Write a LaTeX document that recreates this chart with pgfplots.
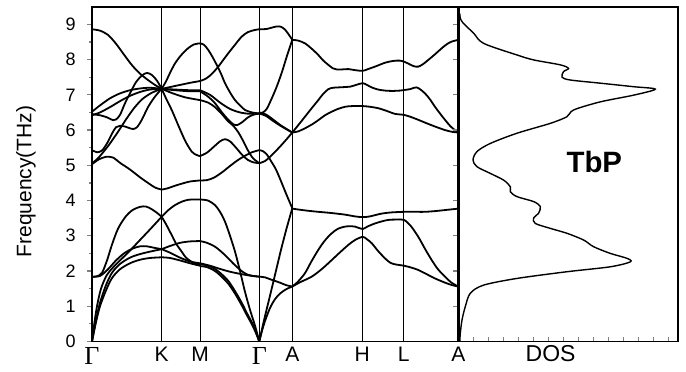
\documentclass[border=0pt]{standalone}
\usepackage{pgfplots}
\pgfplotsset{compat=1.18}
\usepackage{fontspec}
\setmainfont{Liberation Sans}
\newfontfamily\serif{Liberation Serif}
\newcommand{\Gam}{{\serif\fontsize{13}{13}\selectfont\raisebox{0.8pt}{Γ}}}
\tikzset{b/.style={black, line width=0.9pt, smooth, mark=none}}
\begin{document}
\begin{tikzpicture}[x=1pt,y=1pt]
\useasboundingbox (0,0) rectangle (343,185.5);
\begin{axis}[
 at={(46pt,14.75pt)}, anchor=south west, scale only axis,
 width=183.15pt, height=167.4pt,
 xmin=92, xmax=458.3, ymin=0, ymax=9.5,
 axis line style={line width=0.9pt},
 xtick={92,161.7,200,259.3,292.3,362.3,403.7,458.3},
 xticklabels={\Gam,K,M,\Gam,A,H,L,A},
 xticklabel style={font=\fontsize{10.5}{10.5}\selectfont, yshift=1.2pt, inner sep=1.5pt},
 xmajorgrids, major x grid style={black, line width=0.45pt},
 xtick style={draw=none},
 ytick={0,...,9}, minor y tick num=1, ytick pos=left, tick align=outside,
 major tick length=2.5pt, minor tick length=1.6pt,
 ytick style={line width=0.6pt},
 yticklabel style={font=\fontsize{9}{9}\selectfont, xshift=-2.2pt},
 /pgf/number format/assume math mode=true,
 ylabel={Frequency(THz)},
 ylabel style={font=\fontsize{10.5}{10.5}\selectfont, at={(axis description cs:-0.18,0.478)}, anchor=center},
]
% ---------- Gamma - K ----------
\addplot[b] coordinates {(92,8.86)(100,8.82)(108,8.7)(116,8.45)(124,8.14)(132,7.84)(140,7.6)(148,7.42)(155,7.28)(161.7,7.17)};
\addplot[b] coordinates {(92,6.45)(100,6.42)(107,6.36)(113,6.28)(116,6.3)(120,6.43)(125,6.76)(130,7.04)(136,7.36)(142,7.55)(147,7.62)(152,7.56)(157,7.4)(161.7,7.17)};
\addplot[b] coordinates {(92,6.52)(100,6.7)(110,6.9)(120,7.04)(130,7.13)(140,7.18)(150,7.2)(161.7,7.17)};
\addplot[b] coordinates {(92,6.42)(100,6.5)(110,6.65)(120,6.82)(130,6.97)(140,7.08)(150,7.15)(161.7,7.17)};
\addplot[b] coordinates {(92,5.43)(97,5.37)(102,5.42)(107,5.62)(112,5.9)(116,6.08)(120,6.12)(125,6.1)(129,6.06)(133,6.03)(137,6.08)(142,6.3)(148,6.65)(155,6.95)(161.7,7.17)};
\addplot[b] coordinates {(92,5.05)(98,5.2)(104,5.4)(110,5.62)(118,5.95)(126,6.3)(134,6.62)(142,6.87)(150,7.03)(156,7.11)(161.7,7.17)};
\addplot[b] coordinates {(92,5.03)(99,5.17)(106,5.24)(113,5.22)(120,5.07)(130,4.88)(140,4.66)(148,4.5)(155,4.37)(161.7,4.31)};
\addplot[b] coordinates {(92,1.84)(97,1.85)(102,1.95)(107,2.3)(112,2.75)(118,3.2)(125,3.52)(132,3.72)(140,3.82)(146,3.83)(152,3.75)(157,3.65)(161.7,3.54)};
\addplot[b] coordinates {(92,0)(94,0.45)(97,1.0)(101,1.5)(106.7,1.88)(113,2.1)(120,2.3)(130,2.58)(140,2.88)(150,3.18)(161.7,3.54)};
\addplot[b] coordinates {(92,1.84)(100,1.86)(108,2.05)(116,2.3)(124,2.5)(132,2.63)(140,2.7)(147,2.7)(154,2.66)(161.7,2.62)};
\addplot[b] coordinates {(92,0)(96,0.6)(100,1.1)(106,1.6)(112,1.95)(120,2.2)(130,2.38)(140,2.48)(150,2.55)(161.7,2.62)};
\addplot[b] coordinates {(92,0)(96,0.55)(100,1.0)(106,1.45)(112,1.8)(120,2.05)(130,2.22)(140,2.32)(150,2.37)(161.7,2.39)};
% ---------- K - M ----------
\addplot[b] coordinates {(161.7,7.17)(166,7.38)(170,7.62)(175,7.89)(181,8.12)(188,8.32)(194,8.43)(200,8.46)};
\addplot[b] coordinates {(161.7,7.17)(170,7.22)(180,7.28)(190,7.34)(200,7.39)};
\addplot[b] coordinates {(161.7,7.17)(175,7.15)(190,7.13)(200,7.13)};
\addplot[b] coordinates {(161.7,7.17)(175,7.13)(190,7.1)(200,7.1)};
\addplot[b] coordinates {(161.7,7.17)(172,7.05)(185,6.93)(200,6.85)};
\addplot[b] coordinates {(161.7,7.17)(166,6.9)(171.7,6.57)(177,6.22)(181.7,5.91)(186,5.65)(191.7,5.39)(196,5.3)(200,5.26)};
\addplot[b] coordinates {(161.7,4.31)(168,4.35)(175,4.42)(182,4.48)(190,4.54)(200,4.57)};
\addplot[b] coordinates {(161.7,3.54)(166,3.33)(171.7,3.02)(176,2.78)(181.7,2.55)(186,2.38)(191.7,2.26)(196,2.21)(200,2.19)};
\addplot[b] coordinates {(161.7,3.54)(168,3.72)(175,3.87)(182,3.97)(188,4.02)(194,4.03)(200,4.03)};
\addplot[b] coordinates {(161.7,2.62)(170,2.71)(180,2.8)(190,2.84)(200,2.85)};
\addplot[b] coordinates {(161.7,2.62)(170,2.52)(180,2.38)(190,2.27)(200,2.22)};
\addplot[b] coordinates {(161.7,2.39)(170,2.37)(180,2.3)(190,2.22)(200,2.15)};
% ---------- M - Gamma ----------
\addplot[b] coordinates {(200,8.46)(204,8.42)(208.3,8.27)(212,8.1)(216.7,7.85)(221,7.6)(225,7.33)(230,7.07)(235,6.85)(240,6.7)(245,6.57)(252,6.5)(259.3,6.47)};
\addplot[b] coordinates {(200,7.39)(206,7.46)(211.7,7.59)(218.3,7.8)(223,7.98)(228.3,8.18)(235,8.42)(241.7,8.65)(248,8.78)(255,8.84)(259.3,8.86)};
\addplot[b] coordinates {(200,7.13)(210,7.0)(220,6.78)(230,6.6)(240,6.5)(250,6.46)(259.3,6.47)};
\addplot[b] coordinates {(200,7.1)(208,6.95)(215,6.76)(222,6.5)(228,6.3)(233,6.17)(237,6.14)(242,6.22)(248,6.36)(253,6.43)(259.3,6.47)};
\addplot[b] coordinates {(200,6.85)(208,6.78)(215,6.65)(222,6.45)(228,6.25)(233,6.13)(238,5.95)(243,5.7)(248,5.42)(253,5.2)(259.3,5.06)};
\addplot[b] coordinates {(200,5.26)(207,5.36)(214,5.53)(220,5.68)(225,5.74)(230,5.68)(236,5.5)(242,5.3)(248,5.15)(254,5.08)(259.3,5.06)};
\addplot[b] coordinates {(200,4.57)(207,4.58)(214,4.65)(222,4.8)(230,4.98)(238,5.15)(245,5.27)(252,5.37)(259.3,5.43)};
\addplot[b] coordinates {(200,4.03)(208,4.0)(215,3.87)(220,3.68)(225,3.4)(230,3.0)(235,2.55)(240,2.0)(245,1.41)(250,0.9)(255,0.45)(259.3,0)};
\addplot[b] coordinates {(200,2.85)(207,2.8)(215,2.69)(222,2.53)(228.3,2.36)(233,2.22)(238.3,2.08)(243,1.97)(248.3,1.89)(253,1.86)(259.3,1.84)};
\addplot[b] coordinates {(200,2.22)(210,2.15)(220,2.06)(230,1.98)(240,1.92)(250,1.87)(259.3,1.84)};
\addplot[b] coordinates {(200,2.19)(207,2.16)(215,2.06)(222,1.9)(228.3,1.72)(235,1.43)(241.7,1.1)(247,0.8)(251.7,0.55)(255.5,0.3)(259.3,0)};
\addplot[b] coordinates {(200,2.14)(207,2.11)(215,2.0)(222,1.83)(228.3,1.64)(235,1.36)(241.7,1.03)(247,0.74)(251.7,0.5)(255.5,0.27)(259.3,0)};
% ---------- Gamma - A ----------
\addplot[b] coordinates {(259.3,8.86)(263,8.86)(267,8.87)(271,8.9)(276.7,8.94)(281,8.93)(285,8.85)(289,8.7)(292.3,8.56)};
\addplot[b] coordinates {(259.3,6.47)(263,6.5)(266.7,6.6)(271,6.85)(276.7,7.23)(282,7.65)(286.7,8.08)(292.3,8.56)};
\addplot[b] coordinates {(259.3,6.47)(266,6.4)(273,6.26)(280,6.13)(286,6.03)(292.3,5.93)};
\addplot[b] coordinates {(259.3,6.5)(266,6.44)(273,6.3)(280,6.15)(286,6.04)(292.3,5.93)};
\addplot[b] coordinates {(259.3,5.06)(265,5.12)(270,5.24)(275,5.38)(280,5.53)(286,5.72)(292.3,5.93)};
\addplot[b] coordinates {(259.3,5.43)(263,5.4)(267,5.3)(271,5.12)(276,4.88)(281,4.55)(286,4.2)(292.3,3.78)};
\addplot[b] coordinates {(259.3,0)(264,0.6)(270,1.3)(275,1.89)(281,2.6)(286.5,3.2)(292.3,3.78)};
\addplot[b] coordinates {(259.3,0)(262,0.3)(265,0.58)(270,0.95)(275,1.2)(280,1.36)(286,1.48)(292.3,1.56)};
\addplot[b] coordinates {(259.3,1.84)(265,1.82)(271.7,1.75)(280,1.67)(286,1.6)(292.3,1.56)};
% ---------- A - H - L - A ----------
\addplot[b] coordinates {(292.3,8.56)(298,8.54)(305,8.46)(312,8.3)(318.3,8.13)(323,7.98)(328.3,7.85)(333,7.75)(336.7,7.72)(342,7.72)(348.3,7.73)(355,7.7)(362.7,7.68)(368,7.73)(375,7.8)(385,7.91)(393,7.96)(400,7.97)(405,7.93)(410,7.86)(414,7.81)(418.3,7.8)(423,7.87)(428.3,7.99)(435,8.15)(441.7,8.32)(447,8.44)(451.7,8.51)(458.3,8.56)};
\addplot[b] coordinates {(292.3,5.93)(298,6.13)(305,6.38)(312,6.63)(318.3,6.85)(323,7.02)(328.3,7.16)(333,7.2)(338.3,7.21)(345,7.22)(350,7.23)(356,7.28)(362.7,7.33)(367,7.28)(371.7,7.21)(378,7.15)(385,7.12)(392,7.11)(400,7.12)(405,7.14)(410,7.16)(414,7.2)(416.7,7.21)(420,7.16)(425,7.04)(430,6.87)(435,6.66)(440,6.47)(445,6.29)(450,6.12)(454,6.02)(458.3,5.93)};
\addplot[b] coordinates {(292.3,5.93)(298,5.96)(305,6.05)(312,6.16)(318.3,6.28)(325,6.42)(331.7,6.52)(338,6.6)(345,6.66)(352,6.68)(362.7,6.68)(370,6.66)(378.3,6.62)(386,6.55)(395,6.46)(404,6.43)(411,6.37)(418.3,6.29)(426,6.2)(435,6.1)(445,6.0)(452,5.95)(458.3,5.93)};
\addplot[b] coordinates {(292.3,3.77)(305,3.72)(318.3,3.68)(330,3.65)(345,3.6)(355,3.55)(362.7,3.53)(370,3.55)(380,3.62)(390,3.66)(404,3.68)(415,3.68)(425,3.68)(435,3.7)(445,3.73)(458.3,3.77)};
\addplot[b] coordinates {(292.3,1.56)(298,1.7)(305,1.94)(311,2.25)(318.3,2.6)(325,2.87)(331.7,3.07)(338,3.2)(345,3.26)(350,3.27)(355,3.26)(359,3.22)(362.7,3.19)(368,3.27)(375,3.35)(382,3.41)(388.3,3.45)(396,3.46)(404,3.45)(411,3.27)(418.3,2.97)(425,2.63)(431.7,2.31)(438,2.05)(445,1.84)(451,1.68)(458.3,1.56)};
\addplot[b] coordinates {(292.3,1.56)(300,1.68)(311.7,1.84)(322,2.06)(331.7,2.31)(340,2.53)(348.3,2.74)(355,2.88)(362.7,2.97)(367,2.9)(371.7,2.79)(378,2.57)(385,2.36)(390,2.24)(395,2.19)(404,2.15)(411,2.1)(418.3,2.03)(426,1.92)(435,1.79)(445,1.67)(452,1.6)(458.3,1.56)};
\end{axis}
\begin{axis}[
 at={(229.15pt,14.75pt)}, anchor=south west, scale only axis,
 width=109.85pt, height=167.4pt,
 xmin=0, xmax=219.7, ymin=0, ymax=9.5,
 axis line style={line width=0.9pt},
 ytick={1,...,9}, yticklabels={}, ytick pos=left,
 xtick={0,15,...,210}, xticklabels={}, xtick pos=bottom,
 tick align=outside, major tick length=2.5pt,
 ytick style={line width=0.6pt},
 xtick style={line width=0.4pt, yshift=2.5pt, gray},
 xlabel={DOS},
 xlabel style={font=\fontsize{11.5}{11.5}\selectfont, at={(axis description cs:0.42,0)}, anchor=north, yshift=0.3pt, inner sep=2pt},
]
\addplot[black, line width=0.7pt, smooth] coordinates {
(1.5,0)(2,0.23)(3.7,0.61)(7,0.99)(12,1.37)(25.3,1.6)(58.7,1.79)(108.7,1.98)(152,2.12)(172,2.26)(168.7,2.36)(152,2.5)(135.3,2.69)(125.3,2.88)(108.7,3.07)(92,3.21)(77,3.35)(75.3,3.5)(80.3,3.64)(82,3.83)(75.3,3.97)(58.7,4.11)(52,4.25)(52,4.39)(45.3,4.58)(32,4.77)(18.7,4.96)(14.7,5.15)(18.7,5.39)(32,5.62)(58.7,5.91)(92,6.19)(108.7,6.38)(115.3,6.57)(142,6.8)(175.3,6.99)(197,7.16)(175.3,7.23)(142,7.33)(112,7.42)(103.7,7.5)(105.3,7.66)(110.3,7.75)(102,7.85)(75.3,7.99)(58.7,8.13)(25.3,8.46)(15.3,8.75)(5,9.03)(2,9.17)(1.5,9.3)};
\draw[line width=1.3pt] (rel axis cs:0,0) -- (rel axis cs:0,1);
\node[font=\bfseries\fontsize{14.7}{14.7}\selectfont] at (axis cs:136,5.08) {TbP};
\end{axis}
\end{tikzpicture}
\end{document}
